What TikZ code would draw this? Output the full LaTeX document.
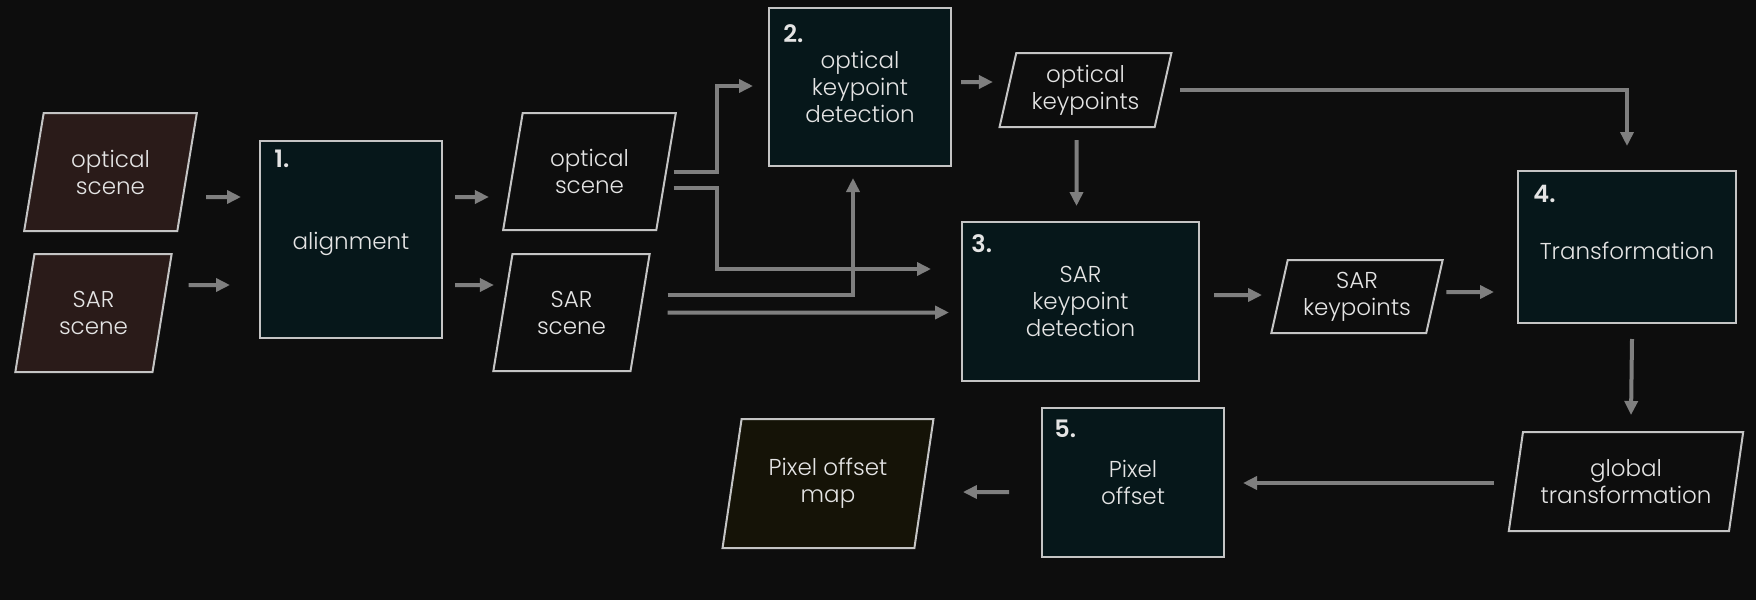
\documentclass[tikz,border=0pt]{standalone}
\usepackage{fontspec}
\setmainfont{Poppins}[UprightFont={* Light}, BoldFont={* SemiBold}]
\usetikzlibrary{shapes.geometric, arrows.meta}
\usetikzlibrary{calc}

\definecolor{bgdark}{HTML}{0D0D0D}
\definecolor{procfill}{HTML}{06171A}
\definecolor{infill}{HTML}{2A1B19}
\definecolor{outfill}{HTML}{151307}
\definecolor{edgegray}{HTML}{C4C4C4}
\definecolor{arrowgray}{HTML}{7F7F7F}
\definecolor{textgray}{HTML}{E4E4E4}

\begin{document}
\begin{tikzpicture}[
      x=0.5pt,
      y=-0.5pt,
      every node/.style={
          text=textgray,
          font=\fontsize{11.5}{13.5}\selectfont
        },
      proc/.style={
          rectangle,
          draw=edgegray,
          line width=1pt,
          align=center,
          inner sep=2pt,
          fill=procfill,
          execute at begin node={\rule{0pt}{13pt}}
        },
      io/.style={
          trapezium,
          trapezium left angle=76,
          trapezium right angle=104,
          trapezium stretches=true,
          draw=edgegray,
          line width=1pt,
          align=center,
          inner sep=1pt
        },
      io-in/.style={
          io,
          fill=infill
        },
      io-out/.style={
          io,
          fill=outfill
        },
      num/.style={
          anchor=north west,
          inner sep=0pt,
          font=\fontsize{12}{12}\selectfont\bfseries
        },
      arrow/.style={
          -{Triangle[length=7pt,width=6.5pt]},
          line width=2pt,
          draw=arrowgray
        }
    ]

    % Background
    \fill[bgdark] (0,0) rectangle (1756,600);

    % Input scenes
    \node[io-in, minimum width=86.5pt, minimum height=59pt] (opt_in) at (110.5,172) {optical\\scene};
    \node[io-in, minimum width=78.5pt, minimum height=59pt] (sar_in) at (93.5,313) {SAR\\scene};

    % 1. alignment
    \node[proc, minimum width=91pt, minimum height=98.5pt] (align) at (351,239.5) {alignment};
    \node[num] (align_num) at ($(align.north west)+(15,10)$) {1.};

    % Aligned scenes
    \node[io, minimum width=86.5pt, minimum height=58.5pt] (opt_al) at (589.5,171.5) {optical\\scene};
    \node[io, minimum width=78.5pt, minimum height=58.5pt] (sar_al) at (571.5,312.5) {SAR\\scene};

    % 2. optical keypoints
    \node[proc, minimum width=91pt, minimum height=79pt] (opt_det) at (860,87) {optical\\keypoint\\detection};
    \node[num] (opt_det_num) at ($(opt_det.north west)+(15,17)$) {2.};
    \node[io, minimum width=86.5pt, minimum height=37pt] (opt_kp) at (1085.5,90) {optical\\keypoints};

    % 3. SAR keypoints
    \node[proc, minimum width=118.5pt, minimum height=79.5pt] (sar_det) at (1080.5,301.5) {SAR\\keypoint\\detection};
    \node[num] (sar_det_num) at ($(sar_det.north west)+(10,13)$) {3.};
    \node[io, minimum width=86pt, minimum height=36.5pt] (sar_kp) at (1357,296.5) {SAR\\keypoints};

    % 4. Transformation
    \node[proc, minimum width=109pt, minimum height=76pt] (transf) at (1627,247) {Transformation};
    \node[num] (transf_num) at ($(transf.north west)+(16,15)$) {4.};
    \node[io, minimum width=118pt, minimum height=49.5pt] (glob) at (1626,481.5) {global\\transformation};

    % 5. Pixel offset
    \node[proc, minimum width=91pt, minimum height=74.5pt] (offs) at (1133,482.5) {Pixel\\offset};
    \node[num] (offs_num) at ($(offs.north west)+(13,13)$) {5.};
    \node[io-out, minimum width=106pt, minimum height=64.5pt] (offs_map) at (828,483.5) {Pixel offset\\map};

    % Arrows
    \draw[arrow] ($(opt_in.east)+(18,25)$) -- ($(align.west)+(-18,-42.5)$);
    \draw[arrow] ($(sar_in.east)+(25.5,-28)$) -- ($(align.west)+(-29,45.5)$);
    \draw[arrow] ($(align.east)+(12,-42.5)$) -- ($(opt_al.west)+(-23,25.5)$);
    \draw[arrow] ($(align.east)+(12,45.5)$) -- ($(sar_al.west)+(-8,-27.5)$);

    % Optical branch
    \draw[arrow] ($(opt_al.east)+(6.5,0)$) -- ++(43,0) |- ($(opt_det.west)+(-15,-1)$);
    \draw[arrow] ($(opt_al.east)+(6.5,16)$) -- ++(43,0) |- ($(sar_det.west)+(-30,-32.5)$);
    \draw[arrow] ($(opt_det.east)+(9,-5)$) -- ($(opt_kp.west)+(-14,-8)$);
    \draw[arrow] ($(opt_kp.east)+(16,0)$) -| ($(transf.north)+(0,-24)$);
    \draw[arrow] ($(opt_kp.south)+(-9,12)$) -- ($(sar_det.north)+(-4,-15)$);

    % SAR branch
    \draw[arrow] ($(sar_al.east)+(26.5,-17.5)$) -| ($(opt_det.south)+(-7,11)$);
    \draw[arrow] ($(sar_al.east)+(26.5,0)$) -- ($(sar_det.west)+(-12,11)$);
    \draw[arrow] ($(sar_det.east)+(14,-6.5)$) -- ($(sar_kp.west)+(-16.5,-1.5)$);
    \draw[arrow] ($(sar_kp.east)+(11,-4.5)$) -- ($(transf.west)+(-23,45)$);

    % Offset
    \draw[arrow] ($(transf.south)+(5,15)$) -- ($(glob.north)+(5,-16)$);
    \draw[arrow] ($(glob.west)+(-21,1.5)$) -- ($(offs.east)+(18,0.5)$);
    \draw[arrow] ($(offs.west)+(-32,9.5)$) -- ($(offs_map.east)+(38,8.5)$);
  \end{tikzpicture}
\end{document}
